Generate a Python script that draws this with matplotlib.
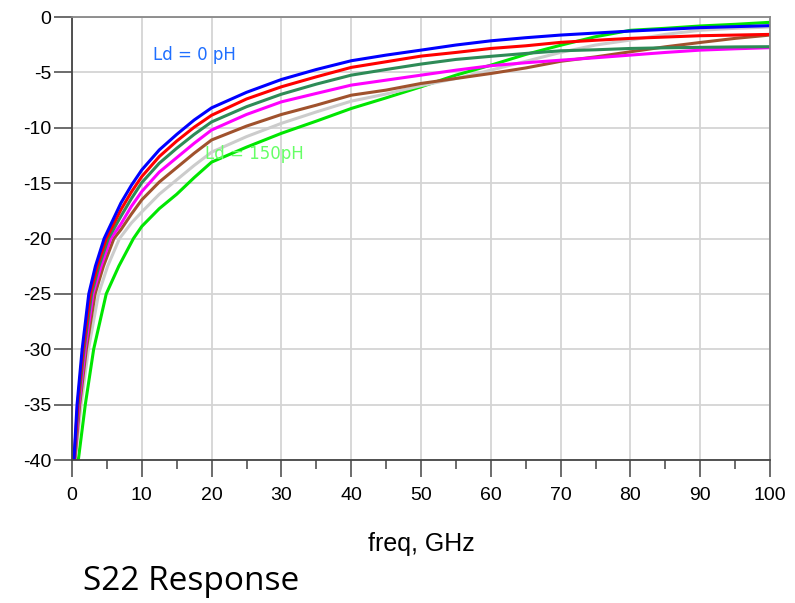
import matplotlib
matplotlib.use("Agg")
import matplotlib.pyplot as plt
from matplotlib.ticker import MultipleLocator

plt.rcParams["axes.unicode_minus"] = False

# S22 (dB) vs freq (GHz), one curve per Ld value
f_ld0 = [0.27, 0.72, 1.45, 2.4, 3.35, 4.6, 7, 8.5, 10, 12.5, 15, 17.5, 20, 25, 30, 35, 40, 45, 50, 55, 60, 65, 70, 75, 80, 85, 90, 95, 100]
s_ld0 = [-40, -35, -30, -25, -22.5, -20, -16.8, -15.2, -13.8, -12.0, -10.6, -9.3, -8.2, -6.8, -5.64, -4.74, -3.95, -3.44, -2.99, -2.53, -2.15, -1.87, -1.63, -1.45, -1.27, -1.12, -0.96, -0.87, -0.78]

f_ld25 = [0.30, 0.80, 1.58, 2.6, 3.6, 4.9, 7, 8.5, 10, 12.5, 15, 17.5, 20, 25, 30, 35, 40, 45, 50, 55, 60, 65, 70, 75, 80, 85, 90, 95, 100]
s_ld25 = [-40, -35, -30, -25, -22.5, -20, -17.4, -15.8, -14.4, -12.6, -11.2, -9.95, -8.87, -7.4, -6.3, -5.4, -4.55, -4.04, -3.53, -3.2, -2.84, -2.6, -2.29, -2.1, -1.93, -1.81, -1.69, -1.63, -1.57]

f_ld50 = [0.33, 0.88, 1.72, 2.8, 3.85, 5.2, 7, 8.5, 10, 12.5, 15, 17.5, 20, 25, 30, 35, 40, 45, 50, 55, 60, 65, 70, 75, 80, 85, 90, 95, 100]
s_ld50 = [-40, -35, -30, -25, -22.5, -20, -18.0, -16.4, -14.95, -13.2, -11.85, -10.6, -9.47, -8.1, -6.97, -6.06, -5.25, -4.74, -4.25, -3.83, -3.55, -3.29, -3.05, -2.96, -2.84, -2.78, -2.74, -2.7, -2.68]

f_ld75 = [0.36, 0.98, 1.88, 3.0, 4.15, 5.55, 7, 8.5, 10, 12.5, 15, 17.5, 20, 25, 30, 35, 40, 45, 50, 55, 60, 65, 70, 75, 80, 85, 90, 95, 100]
s_ld75 = [-40, -35, -30, -25, -22.5, -20, -18.7, -17.1, -15.75, -14.0, -12.7, -11.4, -10.2, -8.8, -7.66, -6.9, -6.15, -5.7, -5.25, -4.8, -4.4, -4.13, -3.9, -3.68, -3.44, -3.2, -2.99, -2.87, -2.77]

f_ld100 = [0.40, 1.1, 2.05, 3.3, 4.5, 6.0, 7, 8.5, 10, 12.5, 15, 17.5, 20, 25, 30, 35, 40, 45, 50, 55, 60, 65, 70, 75, 80, 85, 90, 95, 100]
s_ld100 = [-40, -35, -30, -25, -22.5, -20, -19.2, -17.8, -16.5, -14.9, -13.6, -12.3, -11.1, -9.85, -8.8, -7.96, -7.06, -6.6, -6.0, -5.55, -5.1, -4.6, -4.0, -3.6, -3.14, -2.69, -2.3, -1.93, -1.63]

f_ld125 = [0.46, 1.3, 2.35, 3.8, 5.1, 6.8, 8.5, 10, 12.5, 15, 17.5, 20, 25, 30, 35, 40, 45, 50, 55, 60, 65, 70, 75, 80, 85, 90, 95, 100]
s_ld125 = [-40, -35, -30, -25, -22.5, -20, -18.6, -17.6, -16.0, -14.7, -13.4, -12.2, -10.8, -9.6, -8.57, -7.6, -6.95, -6.2, -5.55, -4.8, -4.0, -3.2, -2.53, -2.08, -1.57, -1.2, -1.02, -0.9]

f_ld150 = [0.9, 1.9, 3.1, 4.9, 6.7, 8.8, 10, 12.5, 15, 17.5, 20, 25, 30, 35, 40, 45, 50, 55, 60, 65, 70, 75, 80, 85, 90, 95, 100]
s_ld150 = [-40, -35, -30, -25, -22.5, -20, -18.9, -17.3, -16.0, -14.5, -13.1, -11.75, -10.5, -9.4, -8.26, -7.3, -6.3, -5.25, -4.35, -3.38, -2.55, -1.78, -1.2, -1.02, -0.81, -0.66, -0.48]

fig = plt.figure(figsize=(7.95, 6.03), dpi=100)
ax = fig.add_axes([0.0906, 0.2371, 0.878, 0.7347])

# drawn back to front so the blue one ends up on top at low freq
ax.plot(f_ld150, s_ld150, color="#00e600", lw=2.2)
ax.plot(f_ld125, s_ld125, color="#cccccc", lw=2.2)
ax.plot(f_ld100, s_ld100, color="#a0522d", lw=2.2)
ax.plot(f_ld75, s_ld75, color="#ff00ff", lw=2.2)
ax.plot(f_ld50, s_ld50, color="#2e8b57", lw=2.2)
ax.plot(f_ld25, s_ld25, color="#ff0000", lw=2.2)
ax.plot(f_ld0, s_ld0, color="#0000ff", lw=2.2)

ax.text(11.6, -3.4, "Ld = 0 pH", color="#1f6fff", fontsize=12, va="center")
ax.text(19.0, -12.4, "Ld = 150pH", color="#66ff66", fontsize=12, va="center")

ax.set_xlim(0, 100)
ax.set_ylim(-40, 0)
ax.xaxis.set_major_locator(MultipleLocator(10))
ax.xaxis.set_minor_locator(MultipleLocator(5))
ax.yaxis.set_major_locator(MultipleLocator(5))
ax.grid(True, which="major", color="#d4d4d4", lw=1.3)
ax.set_axisbelow(True)

for s in ax.spines.values():
    s.set_color("#888888")
    s.set_linewidth(1.3)
ax.spines["left"].set_color("#444444")
ax.spines["bottom"].set_color("#444444")

ax.tick_params(axis="x", which="major", direction="out", length=12.5, width=1.1,
               color="#444444", pad=7, labelsize=14)
ax.tick_params(axis="x", which="minor", direction="out", length=6.5, width=1.1, color="#444444")
ax.tick_params(axis="y", direction="out", length=13, width=1.1, color="#444444",
               pad=2, labelsize=14)
for lab in ax.get_xticklabels() + ax.get_yticklabels():
    lab.set_family("Liberation Sans")

ax.set_xlabel("freq, GHz", fontsize=18, family="Liberation Sans", labelpad=20)

fig.text(0.104, 0.022, "S22 Response", fontsize=24, family="Open Sans", va="baseline")

fig.savefig("out.png", dpi=100)
